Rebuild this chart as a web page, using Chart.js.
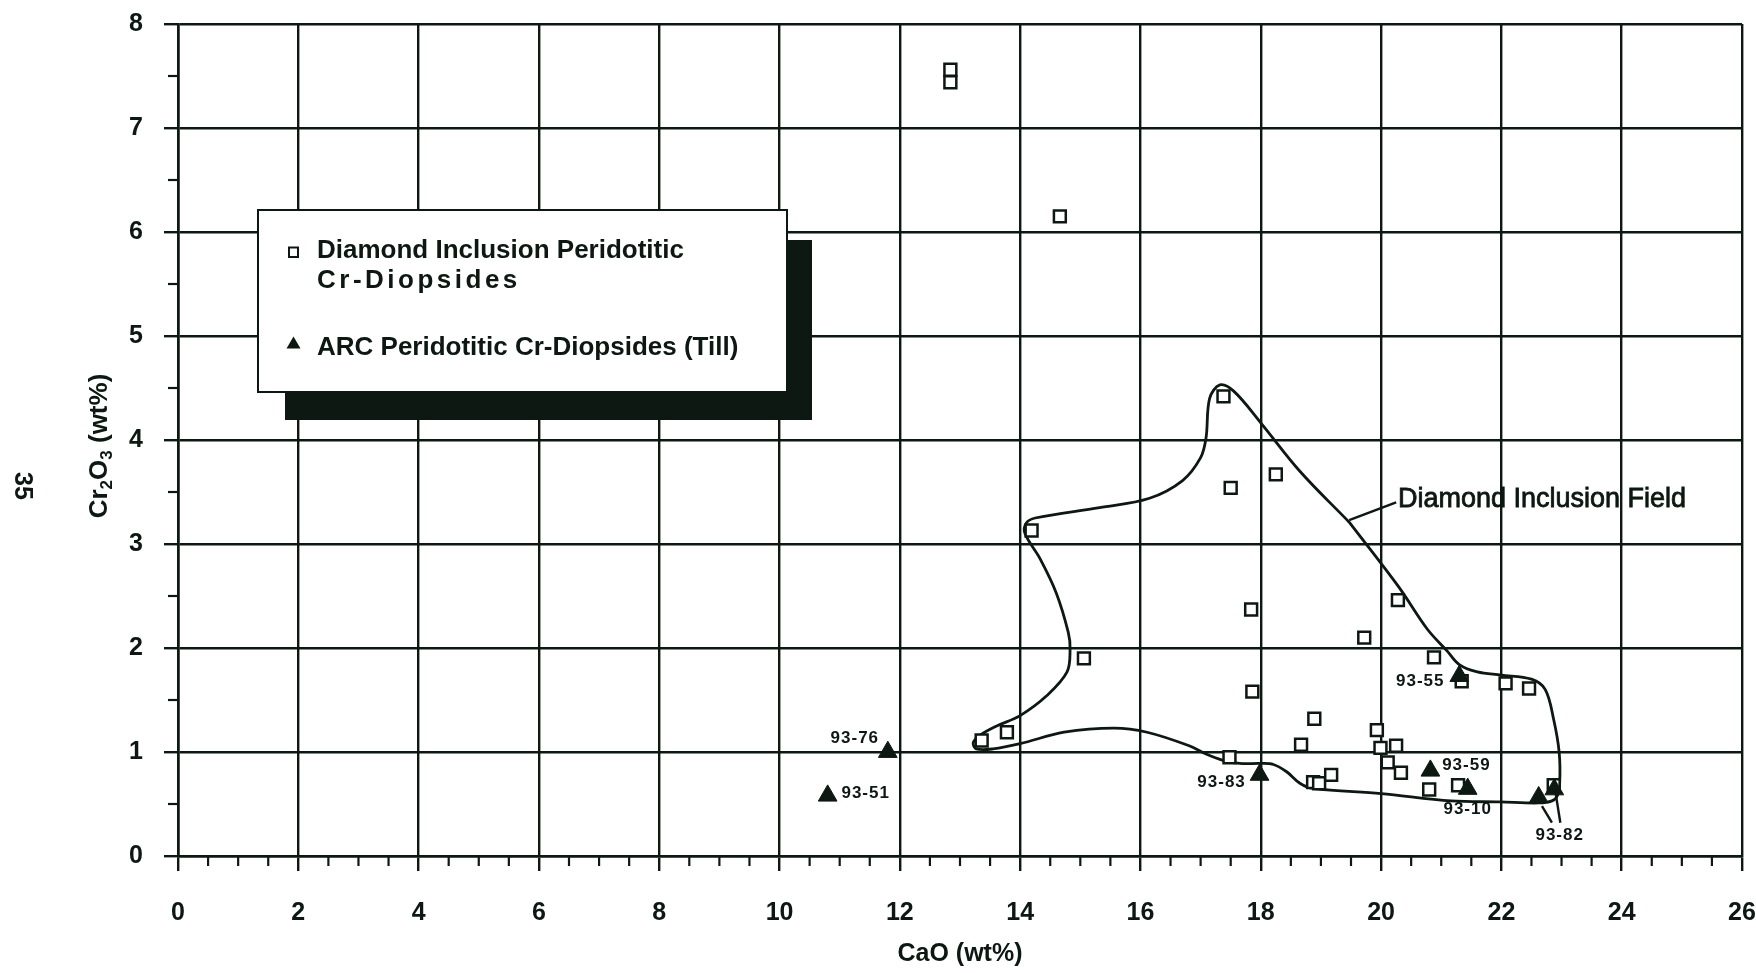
<!DOCTYPE html>
<html>
<head>
<meta charset="utf-8">
<script src="https://cdn.jsdelivr.net/npm/chart.js@4.4.1/dist/chart.umd.min.js"></script>
<style>
html, body { margin: 0; padding: 0; background: #ffffff; }
#wrap { width: 1756px; height: 973px; }
</style>
</head>
<body>
<div id="wrap"><canvas id="c" width="1756" height="973"></canvas></div>
<script>
// ---------------- data ----------------
const xTickValues = [0, 2, 4, 6, 8, 10, 12, 14, 16, 18, 20, 22, 24, 26];
const yTickValues = [0, 1, 2, 3, 4, 5, 6, 7, 8];

// Diamond inclusion peridotitic Cr-diopsides (open squares)
const inclusionCaO = [12.84, 12.84, 14.66, 17.38, 18.25, 17.50, 14.19, 17.84, 19.72, 15.06,
                      20.28, 20.88, 21.34, 22.07, 22.46, 17.86, 18.89, 18.67, 19.93, 19.99,
                      20.25, 20.11, 20.33, 17.48, 18.87, 18.97, 19.17, 20.80, 21.28, 22.87,
                      13.36, 13.78];
const inclusionCr2O3 = [7.56, 7.44, 6.15, 4.42, 3.67, 3.54, 3.13, 2.37, 2.10, 1.90,
                        2.46, 1.91, 1.68, 1.66, 1.61, 1.58, 1.32, 1.07, 1.21, 1.04,
                        1.06, 0.90, 0.80, 0.95, 0.71, 0.70, 0.78, 0.64, 0.68, 0.68,
                        1.11, 1.19];

// ARC peridotitic Cr-diopsides (till) (filled triangles)
const tillSamples = ['93-76', '93-51', '93-83', '93-55', '93-59', '93-10', '93-82', '93-82'];
const tillCaO     = [11.80, 10.80, 17.98, 21.30, 20.82, 21.44, 22.62, 22.88];
const tillCr2O3   = [1.00, 0.58, 0.78, 1.73, 0.82, 0.645, 0.565, 0.64];

// Diamond inclusion field outline (closed curve)
const fieldCaO = [19.47, 20.29, 20.77, 21.10, 21.30, 21.60, 22.00, 22.50, 22.73, 22.87,
                  22.96, 22.97, 22.93, 22.84, 22.62, 21.98, 21.16, 20.00, 18.87, 18.65,
                  18.43, 18.21, 18.00, 17.65, 17.37, 17.09, 16.81, 16.11, 15.56, 14.73,
                  14.00, 13.55, 13.27, 13.22, 13.33, 13.61, 14.00, 14.44, 14.78, 14.83,
                  14.80, 14.60, 14.33, 14.08, 14.10, 14.25, 15.32, 16.15, 16.70, 17.00,
                  17.09, 17.15, 17.32, 17.55, 17.98, 18.65, 19.47];
const fieldCr2O3 = [3.21, 2.59, 2.18, 1.97, 1.84, 1.77, 1.74, 1.70, 1.60, 1.31,
                    1.00, 0.71, 0.58, 0.53, 0.51, 0.52, 0.53, 0.60, 0.65, 0.70,
                    0.81, 0.88, 0.89, 0.89, 0.92, 0.98, 1.06, 1.19, 1.23, 1.19,
                    1.08, 1.03, 1.03, 1.09, 1.16, 1.25, 1.35, 1.54, 1.77, 1.99,
                    2.15, 2.53, 2.86, 3.10, 3.20, 3.25, 3.35, 3.44, 3.61, 3.83,
                    4.02, 4.40, 4.53, 4.47, 4.18, 3.70, 3.21];

// ---------------- annotation placement (not data) ----------------
const sampleLabelOffsets = [[-33, -14], [38, -2], [-38, 7], [-39, 5], [36, -5], [0, 20], [21, 38], null];
const calloutLines = [
  [[19.47, 3.23], [20.25, 3.40]],
  [[22.675, 0.48], [22.84, 0.32]],
  [[22.90, 0.61], [22.98, 0.32]]
];
const fieldLabel = { text: 'Diamond Inclusion Field', x: 20.28, y: 3.36 };

// ---------------- styling ----------------
const INK = '#0c1811';
const FAMILY = '"Liberation Sans", Arial, Helvetica, sans-serif';

const toPoints = (xs, ys) => xs.map((x, i) => ({ x: x, y: ys[i] }));
const zeroPad = s => { s.paddingLeft = 0; s.paddingRight = 0; s.paddingTop = 0; s.paddingBottom = 0; };

const extras = {
  id: 'extras',
  beforeDatasetsDraw(chart) {
    const ctx = chart.ctx, xs = chart.scales.x, ys = chart.scales.y;
    const a = chart.chartArea;
    ctx.save();
    ctx.strokeStyle = INK;
    ctx.lineWidth = 2.2;
    for (let v = 0.5; v < 26; v += 0.5) {
      if (Math.abs(v / 2 - Math.round(v / 2)) < 1e-9) continue;
      const px = xs.getPixelForValue(v);
      ctx.beginPath(); ctx.moveTo(px, a.bottom); ctx.lineTo(px, a.bottom + 10); ctx.stroke();
    }
    for (let v = 0.5; v < 8; v += 1) {
      const py = ys.getPixelForValue(v);
      ctx.beginPath(); ctx.moveTo(a.left - 10, py); ctx.lineTo(a.left, py); ctx.stroke();
    }
    ctx.restore();
  },
  afterDraw(chart) {
    const ctx = chart.ctx, xs = chart.scales.x, ys = chart.scales.y;
    ctx.save();
    ctx.fillStyle = INK;
    ctx.strokeStyle = INK;

    ctx.lineWidth = 2.4;
    calloutLines.forEach(l => {
      ctx.beginPath();
      ctx.moveTo(xs.getPixelForValue(l[0][0]), ys.getPixelForValue(l[0][1]));
      ctx.lineTo(xs.getPixelForValue(l[1][0]), ys.getPixelForValue(l[1][1]));
      ctx.stroke();
    });

    ctx.font = 'bold 17px ' + FAMILY;
    ctx.textAlign = 'center';
    ctx.textBaseline = 'middle';
    ctx.letterSpacing = '1px';
    tillSamples.forEach((s, i) => {
      const off = sampleLabelOffsets[i];
      if (!off) return;
      const px = xs.getPixelForValue(tillCaO[i]) + off[0];
      const py = ys.getPixelForValue(tillCr2O3[i]) + off[1];
      ctx.fillText(s, px, py);
    });
    ctx.letterSpacing = '0px';

    ctx.font = '27px ' + FAMILY;
    ctx.textAlign = 'left';
    ctx.textBaseline = 'alphabetic';
    ctx.lineWidth = 0.8;
    const fx = xs.getPixelForValue(fieldLabel.x), fy = ys.getPixelForValue(fieldLabel.y);
    ctx.fillText(fieldLabel.text, fx, fy);
    ctx.strokeText(fieldLabel.text, fx, fy);

    // legend box with shadow
    ctx.fillStyle = INK;
    ctx.fillRect(285, 240, 527, 180);
    ctx.fillStyle = '#ffffff';
    ctx.fillRect(258, 210, 529, 182);
    ctx.lineWidth = 2;
    ctx.strokeStyle = INK;
    ctx.strokeRect(258, 210, 529, 182);
    ctx.lineWidth = 2;
    ctx.strokeRect(289, 247.5, 9, 9.5);
    ctx.fillStyle = INK;
    ctx.beginPath();
    ctx.moveTo(293.5, 336.5); ctx.lineTo(300.5, 348.5); ctx.lineTo(286.5, 348.5); ctx.closePath();
    ctx.fill();
    ctx.font = 'bold 26px ' + FAMILY;
    ctx.textAlign = 'left';
    ctx.textBaseline = 'alphabetic';
    ctx.fillText('Diamond Inclusion Peridotitic', 317, 258);
    ctx.letterSpacing = '3.5px';
    ctx.fillText('Cr-Diopsides', 317, 288);
    ctx.letterSpacing = '0px';
    ctx.fillText('ARC Peridotitic Cr-Diopsides (Till)', 317, 355);

    // y axis title with subscripts
    ctx.save();
    ctx.translate(107, 446);
    ctx.rotate(-Math.PI / 2);
    const big = 'bold 26px ' + FAMILY, small = 'bold 17px ' + FAMILY;
    const parts = [['Cr', big, 0], ['2', small, 5], ['O', big, 0], ['3', small, 5], [' (wt%)', big, 0]];
    let total = 0;
    parts.forEach(p => { ctx.font = p[1]; total += ctx.measureText(p[0]).width; });
    let cx = -total / 2;
    ctx.textAlign = 'left';
    parts.forEach(p => { ctx.font = p[1]; ctx.fillText(p[0], cx, p[2]); cx += ctx.measureText(p[0]).width; });
    ctx.restore();

    // page number
    ctx.save();
    ctx.translate(22, 486);
    ctx.rotate(Math.PI / 2);
    ctx.font = 'bold 25px ' + FAMILY;
    ctx.textAlign = 'center';
    ctx.textBaseline = 'middle';
    ctx.fillText('35', 0, 0);
    ctx.restore();

    ctx.restore();
  }
};

const chart = new Chart(document.getElementById('c'), {
  type: 'scatter',
  data: {
    datasets: [
      {
        label: 'ARC Peridotitic Cr-Diopsides (Till)',
        data: toPoints(tillCaO, tillCr2O3),
        pointStyle: 'triangle',
        pointRadius: 10.8,
        pointBackgroundColor: INK,
        pointBorderColor: INK,
        pointBorderWidth: 1,
        showLine: false
      },
      {
        label: 'Diamond Inclusion Peridotitic Cr-Diopsides',
        data: toPoints(inclusionCaO, inclusionCr2O3),
        pointStyle: 'rect',
        pointRadius: 8.4,
        pointBackgroundColor: '#ffffff',
        pointBorderColor: INK,
        pointBorderWidth: 2.5,
        showLine: false
      },
      {
        label: 'Diamond Inclusion Field',
        data: toPoints(fieldCaO, fieldCr2O3),
        showLine: true,
        pointRadius: 0,
        borderColor: INK,
        borderWidth: 2.8,
        tension: 0.35,
        fill: false
      }
    ]
  },
  options: {
    responsive: false,
    animation: false,
    devicePixelRatio: 1,
    layout: { padding: { top: 24, right: 14, left: 0, bottom: 0 } },
    plugins: { legend: { display: false }, tooltip: { enabled: false }, title: { display: false } },
    scales: {
      x: {
        type: 'linear',
        min: 0, max: 26,
        afterBuildTicks: s => { s.ticks = xTickValues.map(v => ({ value: v })); },
        afterFit: s => { s.height = 117; zeroPad(s); },
        grid: { color: INK, lineWidth: 2.4, drawTicks: true, tickLength: 15, tickColor: INK, tickWidth: 2.4 },
        border: { display: true, color: INK, width: 2.6 },
        ticks: { color: INK, padding: 27, maxRotation: 0, autoSkip: false,
                 font: { family: FAMILY, size: 25, weight: 'bold' } },
        title: { display: true, text: 'CaO (wt%)', color: INK, padding: { top: 0, bottom: 4 },
                 font: { family: FAMILY, size: 25, weight: 'bold' } }
      },
      y: {
        type: 'linear',
        min: 0, max: 8,
        afterBuildTicks: s => { s.ticks = yTickValues.map(v => ({ value: v })); },
        afterFit: s => { s.width = 178; zeroPad(s); },
        grid: { color: INK, lineWidth: 2.4, drawTicks: true, tickLength: 14, tickColor: INK, tickWidth: 2.4 },
        border: { display: true, color: INK, width: 2.6 },
        ticks: { color: INK, padding: 21, font: { family: FAMILY, size: 25, weight: 'bold' } }
      }
    }
  },
  plugins: [extras]
});
</script>
</body>
</html>
